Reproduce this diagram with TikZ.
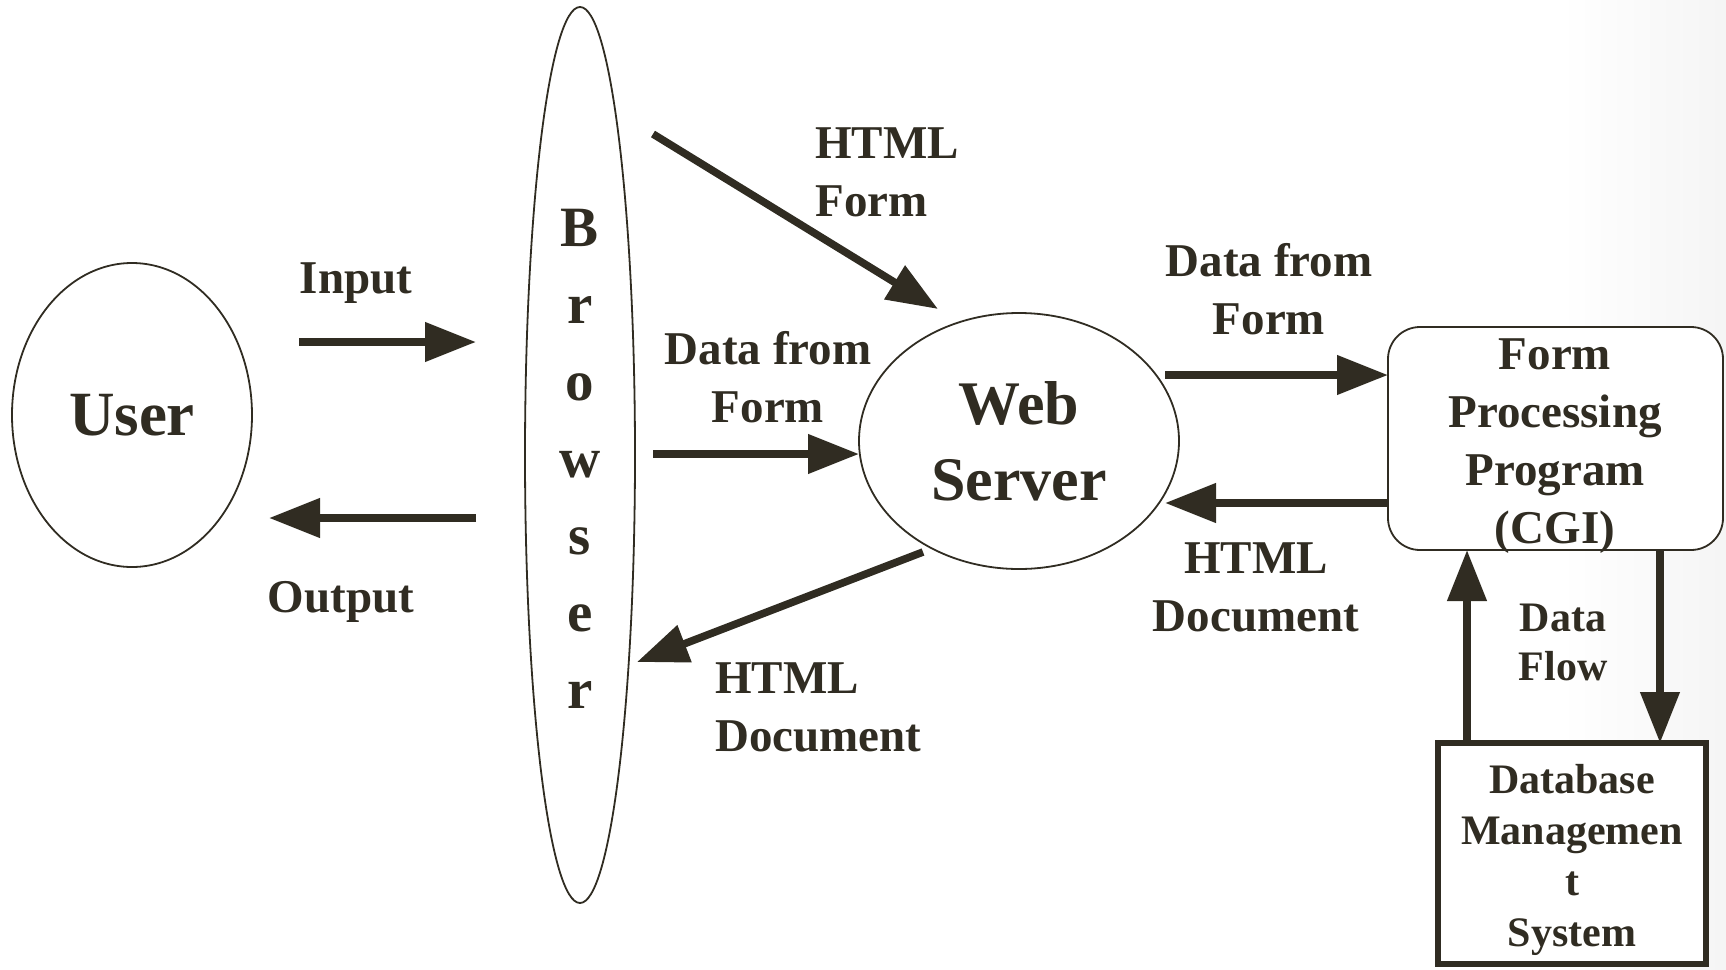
\documentclass[tikz,border=0pt]{standalone}
\usepackage{fontspec}
\setmainfont{Liberation Serif}
\usepackage{tikz}
\usetikzlibrary{arrows.meta}
\usetikzlibrary{shapes.geometric}
\usetikzlibrary{calc}
\usetikzlibrary{positioning}

\definecolor{ink}{RGB}{48,44,34}

\tikzset{
  flow/.style={draw=ink,line width=3.8pt,->},
  oval/.style={ellipse,draw=ink,line width=0.9pt,inner sep=0pt,outer sep=0pt,text=ink},
  lbl/.style={text=ink,inner sep=0pt,font=\bfseries\fontsize{23.5}{29}\selectfont},
  small/.style={font=\bfseries\fontsize{21}{25.5}\selectfont}
}

\begin{document}
\begin{tikzpicture}[x=0.5pt,y=-0.5pt,>={Triangle[length=25.5pt,width=19pt]}]
      \useasboundingbox (0,0) rectangle (1726,970);
      \shade[left color=white,right color=black!4] (1560,0) rectangle (1726,970);

      \node[oval,minimum width=120pt,minimum height=152pt,font=\bfseries\fontsize{31.5}{37}\selectfont] (user) at (132,415) {User};
      \node[oval,minimum width=55pt,minimum height=448pt] (browser) at (580,455) {};
      \foreach \ch [count=\i from 0] in {B,r,o,w,s,e,r}
        \node[lbl,anchor=base,font=\bfseries\fontsize{28.5}{34}\selectfont] (br\i) at (580,246+77*\i) {\ch};
      \node[oval,minimum width=160pt,minimum height=128pt,align=center,font=\bfseries\fontsize{31}{38}\selectfont] (web) at (1019,441) {Web\\Server};

      \node[draw=ink,line width=0.9pt,fill=white,rounded corners=16pt,minimum width=167.5pt,minimum height=111.5pt,inner sep=0pt,outer sep=0pt] (fpp) at (1555.5,438.5) {};
      \node[lbl,align=center,anchor=north] (fpptext) at (1555,338) {Form\\Processing\\Program\\(CGI)};
      \node[draw=ink,line width=2.7pt,fill=white,minimum width=134pt,minimum height=110.5pt,inner sep=0pt,outer sep=0pt] (dbms) at (1572,853.5) {};
      \node[lbl,small,align=center,anchor=north] (dbmstext) at (1572,764) {Database\\Managemen\\t\\System};

      \node[lbl,anchor=base] (input) at (356,293) {Input};
      \node[lbl,anchor=base] (output) at (341,612) {Output};
      \node[lbl,align=left,anchor=north west] (formlbl) at (815,127) {HTML\\Form};
      \node[lbl,align=center,anchor=north] (datalbl) at (768,331) {Data from\\Form};
      \node[lbl,align=left,anchor=north west] (doclbl) at (715,662) {HTML\\Document};
      \node[lbl,align=center,anchor=north] (cgidata) at (1269,243) {Data from\\Form};
      \node[lbl,align=center,anchor=north] (cgidoc) at (1256,542) {HTML\\Document};
      \node[lbl,small,align=center,anchor=north,font=\bfseries\fontsize{21}{24.5}\selectfont] (flowlbl) at (1563,604) {Data\\Flow};

      \coordinate (in0) at (299,342);
      \coordinate (in1) at (476,342);
      \coordinate (out0) at (476,518);
      \coordinate (out1) at (269,518);
      \coordinate (hf0) at (653,134);
      \coordinate (hf1) at (938,309);
      \coordinate (df0) at (653,454);
      \coordinate (hd0) at (923,552);
      \coordinate (hd1) at (637,662);
      \coordinate (dr0) at (1165,375);
      \coordinate (hr1) at (1165,503);
      \coordinate (up) at (1467,0);
      \coordinate (down) at (1660,0);

      \draw[flow] (in0) -- (in1);
      \draw[flow] (out0) -- (out1);
      \draw[flow] (hf0) -- (hf1);
      \draw[flow] (df0) -- (df0 -| web.west);
      \draw[flow] (hd0) -- (hd1);
      \draw[flow] (dr0) -- (dr0 -| fpp.west);
      \draw[flow] (hr1 -| fpp.west) -- (hr1);
      \draw[flow] (up |- dbms.north) -- (up |- fpp.south);
      \draw[flow] (down |- fpp.south) -- (down |- dbms.north);
    \end{tikzpicture}
\end{document}
